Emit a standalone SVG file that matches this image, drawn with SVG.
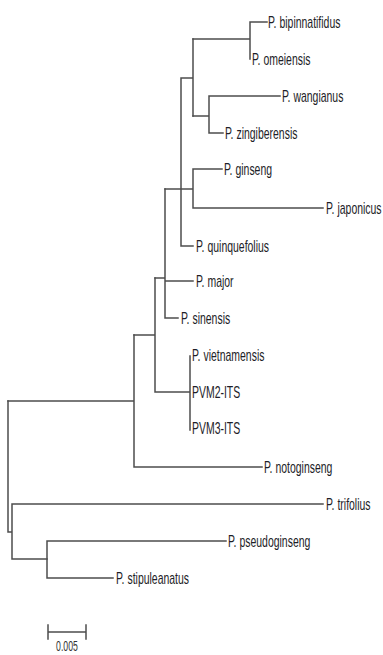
<svg xmlns="http://www.w3.org/2000/svg" width="383" height="655" viewBox="0 0 383 655">
<style>
.e{stroke:#4d4d4d;stroke-width:1.5;fill:none;stroke-linecap:square}
.t{font-family:"Liberation Sans",Arial,sans-serif;font-size:17px;fill:#1e1e28}
.s{font-family:"Liberation Sans",Arial,sans-serif;font-size:15px;fill:#333;text-anchor:middle}
</style>
<rect width="383" height="655" fill="#fff"/>
<g id="connectors" class="e">
<path d="M250,22H267M250,22V59M193,39H250"/>
<path d="M209,96H280M209,133H223M209,96V133M193,116H209"/>
<path d="M193,39V116M181,78H193M181,78V246M181,246H193"/>
<path d="M193,169H222M193,208H323M193,169V208M165,189H193"/>
<path d="M165,281H193M165,318H178M165,189V318M155,278H165"/>
<path d="M190,356V430M155,392H190M155,278V392M134,335H155"/>
<path d="M134,467H262M134,335V467M8,401H134"/>
<path d="M8,401V532M8,532H12M12,504H323M12,504V559M12,559H47"/>
<path d="M47,541H226M47,578H113M47,541V578"/>
</g>
<g id="n-bipinnatifidus"><text class="t" transform="translate(268,28) scale(0.615,1)">P. bipinnatifidus</text></g>
<g id="n-omeiensis"><text class="t" transform="translate(252,65) scale(0.615,1)">P. omeiensis</text></g>
<g id="n-wangianus"><text class="t" transform="translate(282,102) scale(0.615,1)">P. wangianus</text></g>
<g id="n-zingiberensis"><text class="t" transform="translate(225,139) scale(0.615,1)">P. zingiberensis</text></g>
<g id="n-ginseng"><text class="t" transform="translate(224,175) scale(0.615,1)">P. ginseng</text></g>
<g id="n-japonicus"><text class="t" transform="translate(326,214) scale(0.615,1)">P. japonicus</text></g>
<g id="n-quinquefolius"><text class="t" transform="translate(196,252) scale(0.615,1)">P. quinquefolius</text></g>
<g id="n-major"><text class="t" transform="translate(196,287) scale(0.615,1)">P. major</text></g>
<g id="n-sinensis"><text class="t" transform="translate(181,324) scale(0.615,1)">P. sinensis</text></g>
<g id="n-vietnamensis"><text class="t" transform="translate(192,361) scale(0.615,1)">P. vietnamensis</text></g>
<g id="n-pvm2"><text class="t" transform="translate(192,398) scale(0.615,1)">PVM2-ITS</text></g>
<g id="n-pvm3"><text class="t" transform="translate(192,434) scale(0.615,1)">PVM3-ITS</text></g>
<g id="n-notoginseng"><text class="t" transform="translate(264,473) scale(0.615,1)">P. notoginseng</text></g>
<g id="n-trifolius"><text class="t" transform="translate(326,510) scale(0.615,1)">P. trifolius</text></g>
<g id="n-pseudoginseng"><text class="t" transform="translate(228,547) scale(0.615,1)">P. pseudoginseng</text></g>
<g id="n-stipuleanatus"><text class="t" transform="translate(116,584) scale(0.615,1)">P. stipuleanatus</text></g>
<g id="scalebar">
<path class="e" d="M48,632H86M48,625V639M86,625V639"/>
<text class="s" transform="translate(67,651) scale(0.58,1)">0.005</text>
</g>
</svg>
